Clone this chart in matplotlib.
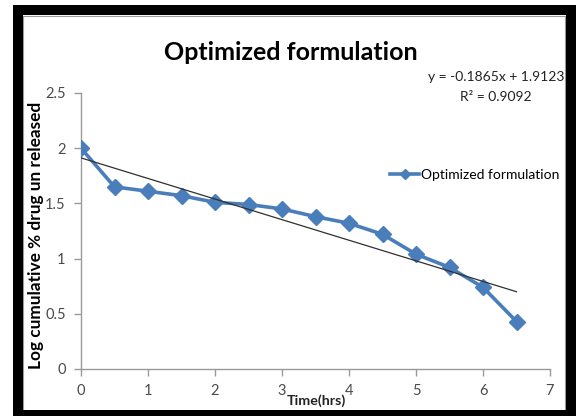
import matplotlib.pyplot as plt
import numpy as np
from matplotlib.patches import Rectangle

# data
time_hrs = [0, 0.5, 1, 1.5, 2, 2.5, 3, 3.5, 4, 4.5, 5, 5.5, 6, 6.5]
log_unreleased = [2.00, 1.65, 1.61, 1.57, 1.51, 1.49, 1.45, 1.38, 1.32, 1.22, 1.04, 0.92, 0.74, 0.43]
slope = -0.1865
intercept = 1.9123
r_squared = 0.9092

xticks = [0, 1, 2, 3, 4, 5, 6, 7]
yticks = [0, 0.5, 1, 1.5, 2, 2.5]

plt.rcParams['font.family'] = ['Lato', 'DejaVu Sans']

W, H = 578, 416
fig = plt.figure(figsize=(W / 100, H / 100), dpi=100)
ax = fig.add_axes([81 / W, 1 - 369 / H, (550 - 81) / W, (369 - 93) / H])

blue = '#4a7ebb'
ax.plot(time_hrs, log_unreleased, '-D', color=blue, lw=2.6, ms=8,
        label='Optimized formulation', zorder=3)

# linear trendline
tx = np.array([time_hrs[0], time_hrs[-1]])
ax.plot(tx, slope * tx + intercept, color='#303030', lw=0.9, zorder=4)

ax.set_xlim(0, 7)
ax.set_ylim(0, 2.5)
ax.set_xticks(xticks)
ax.set_yticks(yticks)
ax.set_xticklabels([str(t) for t in xticks])
ax.set_yticklabels([f'{t:g}' for t in yticks])
for s in ['top', 'right']:
    ax.spines[s].set_visible(False)
for s in ['left', 'bottom']:
    ax.spines[s].set_color('#9a9a9a')
    ax.spines[s].set_linewidth(1)
ax.tick_params(direction='out', length=5, width=1, color='#9a9a9a',
               labelsize=10.5, labelcolor='#4a4a4a', pad=6)

fig.text(291 / W, 1 - 53 / H, 'Optimized formulation', ha='center', va='center',
         fontsize=18, fontweight='bold')
fig.text(36 / W, 1 - 235 / H, 'Log cumulative % drug un released', rotation=90,
         ha='center', va='center', fontsize=12.4, fontweight='bold')
fig.text(316 / W, 1 - 401 / H, 'Time(hrs)', ha='center', va='center',
         fontsize=10.3, fontweight='bold', color='#222222')
fig.text(496 / W, 1 - 77 / H, f'y = {slope}x + {intercept}', ha='center',
         va='center', fontsize=10, color='#222222')
fig.text(496 / W, 1 - 97 / H, f'R² = {r_squared}', ha='center', va='center',
         fontsize=10, color='#222222')

fig.legend(loc='center left', bbox_to_anchor=(390 / W, 1 - 175 / H), frameon=False,
           fontsize=10, handlelength=2.1, handletextpad=0.15, borderpad=0,
           borderaxespad=0, markerscale=0.7)

# chart border
fig.add_artist(Rectangle((22.5 / W, 1 - 412.5 / H), (564.5 - 22.5) / W, (412.5 - 15.5) / H,
                         transform=fig.transFigure, fill=False, ec='#9a9a9a', lw=0.8))
fig.add_artist(Rectangle((17.5 / W, 1 - 414.5 / H), (570.5 - 17.5) / W, (414.5 - 10) / H,
                         transform=fig.transFigure, fill=False, ec='black', lw=7.2))

fig.savefig('out.png', dpi=100)
